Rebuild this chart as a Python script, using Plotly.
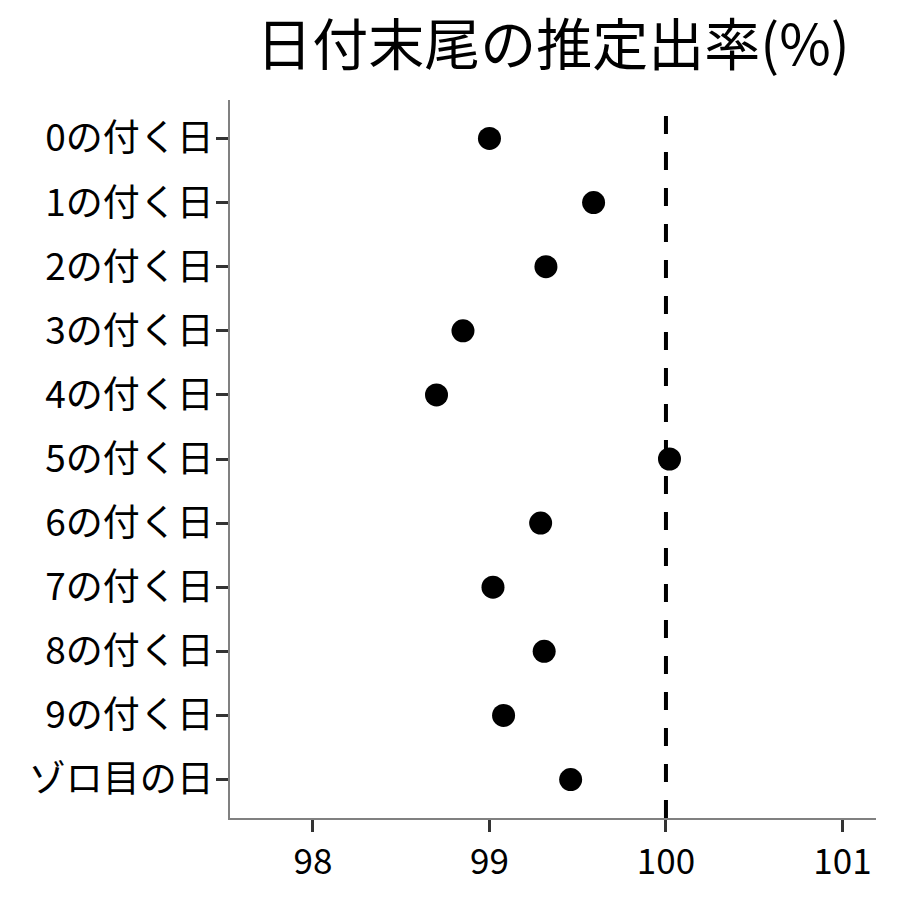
import plotly.graph_objects as go

categories = ["0の付く日", "1の付く日", "2の付く日", "3の付く日", "4の付く日",
              "5の付く日", "6の付く日", "7の付く日", "8の付く日", "9の付く日", "ゾロ目の日"]
rates = [99.00, 99.59, 99.32, 98.85, 98.70, 100.02, 99.29, 99.02, 99.31, 99.08, 99.46]
x_ticks = [98, 99, 100, 101]
ref_value = 100
title_text = "日付末尾の推定出率(%)"

FONT = "Noto Sans CJK JP"

fig = go.Figure()
fig.add_trace(go.Scatter(
    x=rates, y=categories, mode="markers",
    marker=dict(color="black", size=23, line=dict(width=0)),
    showlegend=False, cliponaxis=False,
))

fig.add_shape(type="line", xref="x", yref="paper", x0=ref_value, x1=ref_value,
              y0=0, y1=1, layer="below",
              line=dict(color="black", width=4, dash="18px,18px"))

fig.update_layout(
    width=900, height=900,
    paper_bgcolor="white", plot_bgcolor="white",
    margin=dict(l=222, r=32, t=92, b=90),
    font=dict(family=FONT, color="black"),
    title=dict(text=title_text, x=0.5, xref="paper", xanchor="center",
               y=1 - 37/900, yanchor="middle", yref="container",
               font=dict(family=FONT, size=56, color="black")),
)
fig.update_xaxes(
    range=[97.53, 101.19], tickvals=x_ticks, ticktext=[str(v) for v in x_ticks],
    showgrid=False, zeroline=False,
    showline=True, linecolor="#808080", linewidth=1.5,
    ticks="outside", ticklen=12, tickwidth=3, tickcolor="#333333",
    tickfont=dict(family=FONT, size=35, color="black"),
)
fig.update_yaxes(
    type="category", categoryorder="array", categoryarray=categories,
    range=[10.6, -0.6],
    showgrid=False, zeroline=False,
    showline=True, linecolor="#808080", linewidth=1.5,
    ticks="outside", ticklen=12, tickwidth=3, tickcolor="#333333",
    ticklabelstandoff=-5,
    tickfont=dict(family=FONT, size=37, color="black"),
)

fig.write_html("out.html")
